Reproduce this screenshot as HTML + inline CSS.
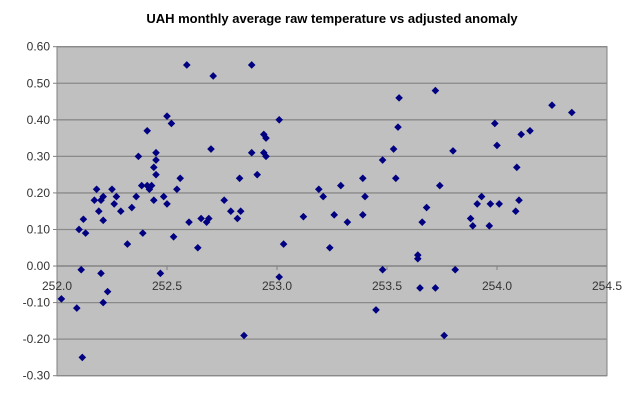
<!DOCTYPE html>
<html><head><meta charset="utf-8"><style>
body{margin:0;background:#fff;}
svg text{font-family:"Liberation Sans",Arial,sans-serif;}
</style></head><body>
<svg id="chart" width="640" height="401" xmlns="http://www.w3.org/2000/svg">
<text x="332" y="23" text-anchor="middle" font-size="13" font-weight="bold" fill="#000">UAH monthly average raw temperature vs adjusted anomaly</text>
<g id="plot"></g>
</svg>
<script>
const xTicks=[252.0,252.5,253.0,253.5,254.0,254.5];
const yTicks=[0.6,0.5,0.4,0.3,0.2,0.1,0.0,-0.1,-0.2,-0.3];
const xVals=[252.59,252.71,252.885,253.01,252.50,252.52,252.41,252.94,252.95,252.70,252.37,252.45,252.45,252.885,252.94,252.95,252.44,252.91,252.45,252.56,252.83,252.18,252.25,252.385,252.41,252.42,252.43,252.42,252.545,252.21,252.27,252.36,252.485,252.17,252.20,252.44,252.76,252.26,252.50,253.19,252.19,252.29,252.79,252.835,252.12,252.21,252.34,252.655,252.69,252.68,252.60,252.82,253.12,252.10,252.13,252.39,252.32,253.03,252.53,252.64,252.11,252.20,252.47,253.01,252.02,252.23,252.21,252.09,252.115,252.85,253.21,253.26,253.24,253.29,253.32,253.39,253.40,253.39,253.48,253.53,253.54,253.55,253.555,253.48,253.68,253.66,253.64,253.64,253.65,253.72,253.74,253.72,253.80,253.81,253.76,253.45,253.88,253.89,253.91,253.93,253.965,253.97,254.01,253.99,254.00,254.09,254.085,254.10,254.11,254.15,254.25,254.34];
const yVals=[0.55,0.52,0.55,0.40,0.41,0.39,0.37,0.36,0.35,0.32,0.30,0.31,0.29,0.31,0.31,0.30,0.27,0.25,0.25,0.24,0.24,0.21,0.21,0.22,0.22,0.21,0.22,0.215,0.21,0.19,0.19,0.19,0.19,0.18,0.18,0.18,0.18,0.17,0.17,0.21,0.15,0.15,0.15,0.15,0.128,0.125,0.16,0.13,0.13,0.12,0.12,0.13,0.135,0.10,0.09,0.09,0.06,0.06,0.08,0.05,-0.01,-0.02,-0.02,-0.03,-0.09,-0.07,-0.10,-0.115,-0.25,-0.19,0.19,0.14,0.05,0.22,0.12,0.24,0.19,0.14,0.29,0.32,0.24,0.38,0.46,-0.01,0.16,0.12,0.03,0.02,-0.06,-0.06,0.22,0.48,0.315,-0.01,-0.19,-0.12,0.13,0.11,0.17,0.19,0.11,0.17,0.17,0.39,0.33,0.27,0.15,0.18,0.36,0.37,0.44,0.42];
const L=57,R=607,T=46.7,B=375.7;
const xs=v=>L+(v-252)/2.5*(R-L);
const ys=v=>T+(0.6-v)/0.9*(B-T);
const NS='http://www.w3.org/2000/svg';
const g=document.getElementById('plot');
function mk(t,a){const e=document.createElementNS(NS,t);for(const k in a)e.setAttribute(k,a[k]);g.appendChild(e);return e;}
let bg=mk('rect',{x:L,y:T,width:R-L,height:B-T,fill:'#c0c0c0',stroke:'#808080','stroke-width':1});


yTicks.forEach(t=>{
  const y=ys(t);
  let ln=mk('line',{x1:L,x2:R,y1:y,y2:y,stroke:'#8a8a8a','stroke-width':1.3});
  
  
  let tk=mk('line',{x1:L-4,x2:L,y1:y,y2:y,stroke:'#808080'});
  
  
  let tx=mk('text',{x:L-7,y:y+4,'text-anchor':'end','font-size':'12',fill:'#333'});
  tx.textContent=t.toFixed(2);
  
  
});
const y0=ys(0);
let ax=mk('line',{x1:L,x2:R,y1:y0,y2:y0,stroke:'#808080','stroke-width':1.3});


xTicks.forEach(t=>{
  const x=xs(t);
  let tk=mk('line',{x1:x,x2:x,y1:y0,y2:y0+4,stroke:'#808080'});
  
  
  let tx=mk('text',{x:x,y:y0+24,'text-anchor':'middle','font-size':'12',fill:'#333'});
  tx.textContent=t.toFixed(1);
  
  
});
xVals.forEach((v,i)=>{
  const x=xs(v),y=ys(yVals[i]),s=3.8;
  let p=mk('polygon',{points:`${x},${y-s} ${x+s},${y} ${x},${y+s} ${x-s},${y}`,fill:'#000080'});
  
  
});
</script>
</body></html>
